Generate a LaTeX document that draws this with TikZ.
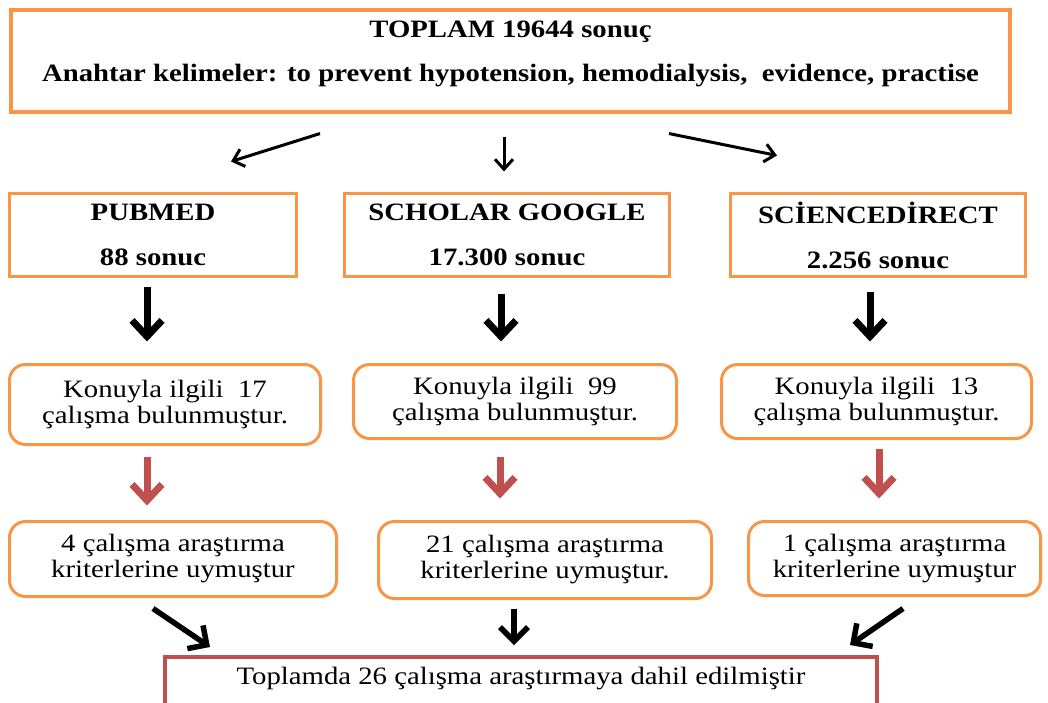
\documentclass[tikz,border=0pt]{standalone}
\usepackage{fontspec}
\setmainfont{Liberation Serif}[FakeStretch=1.15,
  BoldFont={Liberation Serif Bold},BoldFeatures={FakeStretch=1.15}]
\usetikzlibrary{arrows.meta}
\definecolor{boxorange}{HTML}{F79646}
\definecolor{arrowred}{HTML}{C0504D}
\tikzset{toprow/.style={draw=boxorange,line width=4pt,inner sep=0pt,align=center,font=\bfseries},
 dbbox/.style={draw=boxorange,line width=3pt,inner sep=0pt,minimum height=83pt,align=center,font=\bfseries},
 stepbox/.style={draw=boxorange,line width=3pt,rounded corners=16pt,inner sep=0pt,align=center},
 thinarrow/.style={line width=3pt,-{Straight Barb[length=10pt,width=18pt]}},
 fatarrow/.style={line width=7pt,-{Straight Barb[length=16pt,width=30pt]}},
 redarrow/.style={fatarrow,draw=arrowred},
 midarrow/.style={line width=5.5pt,-{Straight Barb[length=14pt,width=28pt]}},
 }

\begin{document}
\begin{tikzpicture}[x=1pt,y=-1pt]
        \fontsize{25}{26}\selectfont
        \useasboundingbox (0,0) rectangle (1048,702);
        \clip (0,0) rectangle (1048,702);
        \node[toprow,anchor=north,minimum width=999pt,inner ysep=11pt,text depth=19pt] (top) at (510.5,8)
            {TOPLAM 19644 sonuç\\[18pt]Anahtar kelimeler: to prevent hypotension, hemodialysis,\ \ evidence, practise};
        \node[dbbox,minimum width=287pt] (pubmed) at (153,235) {PUBMED\\[19pt]88 sonuc};
        \node[dbbox,minimum width=325pt] (scholar) at (507,235) {SCHOLAR GOOGLE\\[19pt]17.300 sonuc};
        \node[dbbox,minimum width=295pt] (science) at (878,235) {SCİENCEDİRECT\\[19pt]2.256 sonuc};
        \node[stepbox,minimum width=311pt,minimum height=80pt] (pubfound) at (165,404.5) {Konuyla ilgili\ \ 17\\çalışma bulunmuştur.};
        \node[stepbox,minimum width=323pt,minimum height=74pt] (schfound) at (515,401.5) {Konuyla ilgili\ \ 99\\çalışma bulunmuştur.};
        \node[stepbox,minimum width=310pt,minimum height=74pt] (scifound) at (876.5,401.5) {Konuyla ilgili\ \ 13\\çalışma bulunmuştur.};
        \node[stepbox,minimum width=327pt,minimum height=75pt] (pubcrit) at (173,559) {4 çalışma araştırma\\kriterlerine uymuştur};
        \node[stepbox,minimum width=333pt,minimum height=77pt] (schcrit) at (545,560) {21 çalışma araştırma\\kriterlerine uymuştur.};
        \node[stepbox,minimum width=292pt,minimum height=74pt] (scicrit) at (894.5,558.5) {1 çalışma araştırma\\kriterlerine uymuştur};
        \node[draw=arrowred,line width=4pt,anchor=north,minimum width=712pt,inner xsep=0pt,inner ysep=10pt,text depth=40pt] (total) at (521,655)
            {Toplamda 26 çalışma araştırmaya dahil edilmiştir};
        % from the search to the three databases
        \draw[thinarrow] ([shift={(-190.5,20)}]top.south) -- ([shift={(78,-30.5)}]pubmed.north);
        \draw[thinarrow] ([shift={(-6.5,23)}]top.south) -- ([shift={(-3,-20.5)}]scholar.north);
        \draw[thinarrow] ([shift={(158.5,20)}]top.south) -- ([shift={(-101,-36.5)}]science.north);
        \draw[fatarrow] ([shift={(-6,8.5)}]pubmed.south) -- ([shift={(-18,-21.5)}]pubfound.north);
        \draw[fatarrow] ([shift={(-6,15.5)}]scholar.south) -- ([shift={(-14,-21.5)}]schfound.north);
        \draw[fatarrow] ([shift={(-8,13.5)}]science.south) -- ([shift={(-6.5,-21.5)}]scifound.north);
        \draw[redarrow] ([shift={(-18,10.5)}]pubfound.south) -- ([shift={(-26,-14.5)}]pubcrit.north);
        \draw[redarrow] ([shift={(-15,16.5)}]schfound.south) -- ([shift={(-45,-21.5)}]schcrit.north);
        \draw[redarrow] ([shift={(2.5,8.5)}]scifound.south) -- ([shift={(-15.5,-21.5)}]scicrit.north);
        % into the total
        \draw[midarrow] ([shift={(-20,10.5)}]pubcrit.south) -- ([shift={(-311,-8)}]total.north);
        \draw[midarrow] ([shift={(-31,8.5)}]schcrit.south) -- ([shift={(-7,-10)}]total.north);
        \draw[midarrow] ([shift={(8.5,11.5)}]scicrit.south) -- ([shift={(329,-10)}]total.north);
    \end{tikzpicture}
\end{document}
